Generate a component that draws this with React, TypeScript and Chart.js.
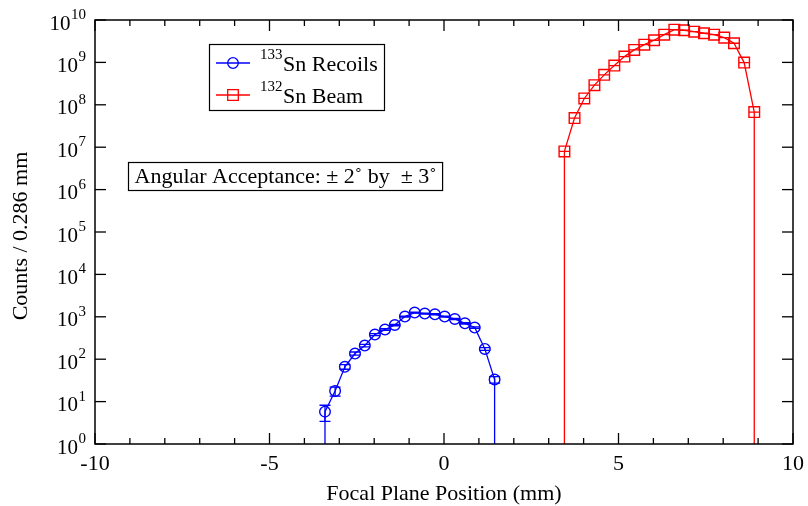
import React, { useEffect, useRef } from "react";
import { Chart, registerables } from "chart.js";

Chart.register(...registerables);

// ---- data ----
const recoilX = [-3.41, -3.12, -2.84, -2.55, -2.27, -1.98, -1.69, -1.41, -1.12, -0.84, -0.55, -0.26, 0.02, 0.31, 0.6, 0.88, 1.17, 1.45];
const recoilY = [5.8, 17.7, 66, 136, 210, 381, 500, 641, 1010, 1256, 1189, 1145, 1011, 888, 703, 557, 175, 33];
const recoilErr = [2.4, 4.2, 8.1, 11.7, 14.5, 19.5, 22.4, 25.3, 31.8, 35.4, 34.5, 33.8, 31.8, 29.8, 26.5, 23.6, 13.2, 5.7];

const beamX = [3.45, 3.74, 4.02, 4.31, 4.59, 4.88, 5.17, 5.45, 5.74, 6.02, 6.31, 6.6, 6.88, 7.17, 7.45, 7.74, 8.03, 8.31, 8.6, 8.89];
const beamY = [7.96e6, 4.87e7, 1.41e8, 2.91e8, 5.08e8, 8.41e8, 1.37e9, 1.97e9, 2.62e9, 3.33e9, 4.51e9, 5.92e9, 5.73e9, 5.31e9, 4.87e9, 4.51e9, 3.84e9, 2.83e9, 9.9e8, 6.73e7];
const beamErr = [2800, 7000, 12000, 17000, 22500, 29000, 37000, 44000, 51000, 58000, 67000, 77000, 76000, 73000, 70000, 67000, 62000, 53000, 31000, 8200];

const xMajorTicks = [-10, -5, 0, 5, 10];
const xMinorTicks = [-9, -8, -7, -6, -4, -3, -2, -1, 1, 2, 3, 4, 6, 7, 8, 9];
const yTickExponents = [0, 1, 2, 3, 4, 5, 6, 7, 8, 9, 10];

const xTitle = "Focal Plane Position (mm)";
const yTitle = "Counts / 0.286 mm";
const legendSup = ["133", "132"];
const legendNames = ["Sn Recoils", "Sn Beam"];
const annotationText = "Angular Acceptance: \u00b1 2\u02da by  \u00b1 3\u02da";

const BLUE = "#0000ff";
const RED = "#ff0000";
const FONT = "'Liberation Serif', 'Times New Roman', serif";
const Y_BASE = 1; // bottom of log axis (10^0)

function withBaseline(xs: number[], ys: number[]) {
  const pts = xs.map((x, i) => ({ x, y: ys[i] }));
  return [{ x: xs[0], y: Y_BASE }, ...pts, { x: xs[xs.length - 1], y: Y_BASE }];
}
function radii(n: number, r: number) {
  return [0, ...Array.from({ length: n }, () => r), 0];
}

const errorBarPlugin = {
  id: "errorBars",
  afterDatasetsDraw(chart: any) {
    const ctx = chart.ctx;
    const xs = chart.scales.x;
    const ys = chart.scales.y;
    const sets = [
      { x: recoilX, y: recoilY, e: recoilErr, c: BLUE, w: 5.5 },
      { x: beamX, y: beamY, e: beamErr, c: RED, w: 5.3 },
    ];
    ctx.save();
    ctx.lineWidth = 1.3;
    for (const s of sets) {
      ctx.strokeStyle = s.c;
      s.x.forEach((xv, i) => {
        const px = xs.getPixelForValue(xv);
        const lo = Math.max(s.y[i] - s.e[i], 1e-3);
        const pyLo = ys.getPixelForValue(lo);
        const pyHi = ys.getPixelForValue(s.y[i] + s.e[i]);
        ctx.beginPath();
        ctx.moveTo(px, pyLo);
        ctx.lineTo(px, pyHi);
        ctx.moveTo(px - s.w, pyLo);
        ctx.lineTo(px + s.w, pyLo);
        ctx.moveTo(px - s.w, pyHi);
        ctx.lineTo(px + s.w, pyHi);
        ctx.stroke();
      });
    }
    ctx.restore();
  },
};

const decorPlugin = {
  id: "decor",
  afterDraw(chart: any) {
    const ctx = chart.ctx;
    const { left, right, top, bottom } = chart.chartArea;
    const xs = chart.scales.x;
    const ys = chart.scales.y;
    ctx.save();
    // frame
    ctx.strokeStyle = "#000";
    ctx.lineWidth = 1.5;
    ctx.strokeRect(left, top, right - left, bottom - top);
    // ticks
    ctx.lineWidth = 1.3;
    const seg = (x1: number, y1: number, x2: number, y2: number) => {
      ctx.beginPath();
      ctx.moveTo(x1, y1);
      ctx.lineTo(x2, y2);
      ctx.stroke();
    };
    xMajorTicks.forEach((v) => {
      const px = xs.getPixelForValue(v);
      seg(px, bottom, px, bottom - 11);
      seg(px, top, px, top + 11);
    });
    xMinorTicks.forEach((v) => {
      const px = xs.getPixelForValue(v);
      seg(px, bottom, px, bottom - 6);
      seg(px, top, px, top + 6);
    });
    yTickExponents.forEach((e) => {
      const py = ys.getPixelForValue(Math.pow(10, e));
      seg(left, py, left + 11, py);
      seg(right, py, right - 11, py);
    });
    // x tick labels
    ctx.fillStyle = "#000";
    ctx.font = `22px ${FONT}`;
    ctx.textAlign = "center";
    ctx.textBaseline = "alphabetic";
    xMajorTicks.forEach((v) => {
      const px = xs.getPixelForValue(v);
      ctx.fillText(String(v), px, bottom + 26);
    });
    // y tick labels: 10^e
    ctx.textAlign = "left";
    yTickExponents.forEach((e) => {
      const py = ys.getPixelForValue(Math.pow(10, e));
      ctx.font = `15px ${FONT}`;
      const ew = ctx.measureText(String(e)).width;
      ctx.font = `21px ${FONT}`;
      const bw = ctx.measureText("10").width;
      const rightEdge = left - 9;
      const ex = rightEdge - ew;
      const bx = ex - bw - 0.5;
      ctx.fillText("10", bx, py + 9.5);
      ctx.font = `15px ${FONT}`;
      ctx.fillText(String(e), ex, py - 1);
    });
    // axis titles
    ctx.font = `22px ${FONT}`;
    ctx.textAlign = "center";
    ctx.fillText(xTitle, (left + right) / 2, 500);
    ctx.save();
    ctx.translate(27, (top + bottom) / 2 + 4);
    ctx.rotate(-Math.PI / 2);
    ctx.fillText(yTitle, 0, 0);
    ctx.restore();

    // legend
    const lx = 209.5, ly = 44.5, lw = 175, lh = 66;
    ctx.fillStyle = "#fff";
    ctx.fillRect(lx, ly, lw, lh);
    ctx.strokeStyle = "#000";
    ctx.lineWidth = 1.2;
    ctx.strokeRect(lx, ly, lw, lh);
    const rows = [63, 95];
    const colors = [BLUE, RED];
    rows.forEach((ry, i) => {
      ctx.strokeStyle = colors[i];
      ctx.lineWidth = 1.3;
      seg(216, ry, 250, ry);
      ctx.beginPath();
      if (i === 0) ctx.arc(233, ry, 5.3, 0, Math.PI * 2);
      else ctx.rect(233 - 5.3, ry - 5.3, 10.6, 10.6);
      ctx.stroke();
      ctx.fillStyle = "#000";
      ctx.textAlign = "left";
      ctx.font = `15px ${FONT}`;
      ctx.fillText(legendSup[i], 260, ry - 4);
      ctx.font = `22px ${FONT}`;
      ctx.fillText(legendNames[i], 283, ry + 8);
    });

    // annotation box
    ctx.font = `22px ${FONT}`;
    const tw = ctx.measureText(annotationText).width;
    const ax = 128.5, ay = 162.5;
    ctx.fillStyle = "#fff";
    ctx.fillRect(ax, ay, tw + 12, 28);
    ctx.strokeStyle = "#000";
    ctx.lineWidth = 1.2;
    ctx.strokeRect(ax, ay, tw + 12, 28);
    ctx.fillStyle = "#000";
    ctx.textAlign = "left";
    ctx.fillText(annotationText, ax + 6, 183);
    ctx.restore();
  },
};

export default function App() {
  const ref = useRef<HTMLCanvasElement | null>(null);
  useEffect(() => {
    document.body.style.margin = "0";
    if (!ref.current) return;
    const chart = new Chart(ref.current, {
      type: "scatter",
      data: {
        datasets: [
          {
            label: "133Sn Recoils",
            data: withBaseline(recoilX, recoilY),
            showLine: true,
            borderColor: BLUE,
            borderWidth: 1.3,
            backgroundColor: "rgba(0,0,0,0)",
            pointStyle: "circle",
            pointRadius: radii(recoilX.length, 5.3),
            pointBorderWidth: 1.4,
            pointBorderColor: BLUE,
            pointBackgroundColor: "rgba(0,0,0,0)",
          },
          {
            label: "132Sn Beam",
            data: withBaseline(beamX, beamY),
            showLine: true,
            borderColor: RED,
            borderWidth: 1.3,
            backgroundColor: "rgba(0,0,0,0)",
            pointStyle: "rect",
            pointRadius: radii(beamX.length, 7.5),
            pointBorderWidth: 1.4,
            pointBorderColor: RED,
            pointBackgroundColor: "rgba(0,0,0,0)",
          },
        ],
      },
      options: {
        responsive: false,
        animation: false,
        devicePixelRatio: 1,
        layout: { padding: { left: 95, top: 20, right: 15, bottom: 62 } },
        scales: {
          x: { type: "linear", min: -10, max: 10, display: false },
          y: { type: "logarithmic", min: 1, max: 1e10, display: false },
        },
        plugins: { legend: { display: false }, tooltip: { enabled: false } },
      },
      plugins: [errorBarPlugin, decorPlugin],
    });
    return () => chart.destroy();
  }, []);
  return (
    <canvas
      ref={ref}
      width={808}
      height={506}
      style={{ position: "fixed", left: 0, top: 0, width: 808, height: 506, display: "block" }}
    />
  );
}
